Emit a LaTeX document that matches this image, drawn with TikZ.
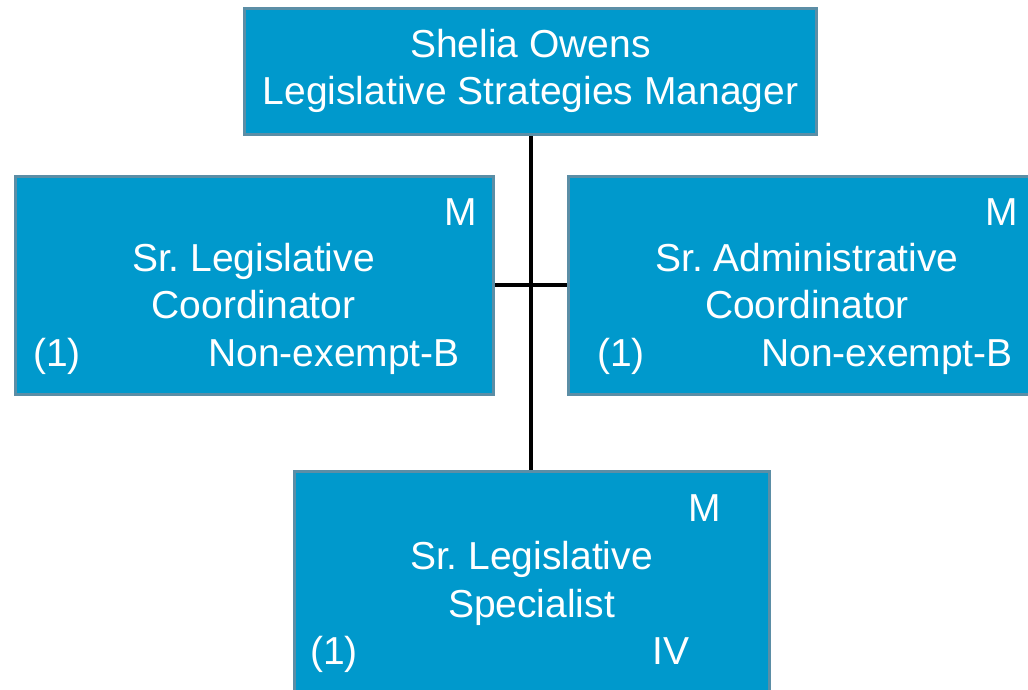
\documentclass[tikz,border=0pt]{standalone}
\usepackage{fontspec}
\setmainfont{Liberation Sans}
\usetikzlibrary{positioning}
\definecolor{boxblue}{HTML}{0099CC}
\definecolor{boxedge}{HTML}{5B8EA6}
\frenchspacing

\begin{document}
\begin{tikzpicture}[
                x=1pt,
                y=-1pt,
                box/.style={draw=boxedge, line width=3pt, fill=boxblue, inner sep=0pt},
                txt/.style={text=white, font=\fontsize{39}{46}\selectfont, inner sep=0pt},
                link/.style={draw=black, line width=4pt}]
            \useasboundingbox (0,0) rectangle (1028,689);
            % boxes
            \node[box, minimum width=572pt, minimum height=126pt] (mgr) at (530.5,71.5) {};
            \node[box, minimum width=478pt, minimum height=218pt] (coord_l) at (254.5,285) {};
            \node[box, minimum width=478pt, minimum height=218pt] (coord_r) at (807.5,285) {};
            \node[box, minimum width=475pt, minimum height=230pt] (spec) at (531.5,586.5) {};
            % lines
            \path[link] (mgr.south) -- (mgr.south |- spec.north);
            \path[link] (coord_l.east) -- (coord_r.west);
            % manager
            \node[txt, anchor=base] (mgr_name) at (530.5,57) {Shelia Owens};
            \node[txt, anchor=base] (mgr_title) at (530.5,104) {Legislative Strategies Manager};
            % left
            \node[txt, anchor=base east] (l_m) at (477,225) {M};
            \node[txt, anchor=base] (l_t1) at (253.5,271) {Sr. Legislative};
            \node[txt, anchor=base] (l_t2) at (253.5,318) {Coordinator};
            \node[txt, anchor=base west] (l_n) at (33,366) {(1)};
            \node[txt, anchor=base east] (l_g) at (460,366) {Non-exempt-B};
            % right
            \node[txt, anchor=base east] (r_m) at (1018,225) {M};
            \node[txt, anchor=base] (r_t1) at (807,271) {Sr. Administrative};
            \node[txt, anchor=base] (r_t2) at (807,318) {Coordinator};
            \node[txt, anchor=base west] (r_n) at (597,366) {(1)};
            \node[txt, anchor=base east] (r_g) at (1013,366) {Non-exempt-B};
            % bottom
            \node[txt, anchor=base east] (s_m) at (721,521) {M};
            \node[txt, anchor=base] (s_t1) at (531.5,569) {Sr. Legislative};
            \node[txt, anchor=base] (s_t2) at (531.5,617) {Specialist};
            \node[txt, anchor=base west] (s_n) at (310,664) {(1)};
            \node[txt, anchor=base east] (s_g) at (690,664) {IV};
        \end{tikzpicture}
\end{document}
